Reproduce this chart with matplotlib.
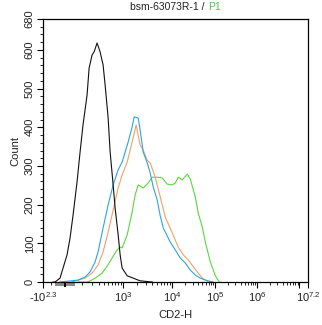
import numpy as np
import matplotlib
matplotlib.use("Agg")
import matplotlib.pyplot as plt
from matplotlib.ticker import FixedLocator, NullFormatter
from matplotlib.patches import Rectangle
import matplotlib.transforms as mtransforms

plt.rcParams['font.family'] = ['Liberation Sans', 'DejaVu Sans']
plt.rcParams['mathtext.fontset'] = 'custom'
plt.rcParams['mathtext.rm'] = 'Liberation Sans'
plt.rcParams['mathtext.it'] = 'Liberation Sans'

# ---- data (CD2-H values, counts) ----
black_x = [-81.9, -64.6, -28.3, -10.5, 8.62, 23, 39.2, 64.2, 85.9, 110, 148, 170, 205, 232, 275, 325,
           381, 423, 492, 543, 628, 690, 795, 872, 955, 1220, 1630, 2270, 3990]
black_y = [0, 0, 10, 36, 70, 114, 173, 259, 336, 406, 483, 553, 587, 595, 618, 595, 561, 509, 424,
           336, 251, 191, 122, 70, 36, 16, 10, 3, 0]
blue_x = [-28.3, 71.2, 129, 181, 246, 291, 381, 492, 628, 795, 955, 1104, 1279, 1550, 1709, 2070,
          2270, 2620, 3160, 3630, 4174, 5020, 5770, 6622, 9126, 11760, 15370, 20110, 26280, 34350,
          44880, 65240, 85200]
blue_y = [0, 5, 13, 26, 52, 78, 140, 199, 251, 290, 310, 336, 362, 401, 427, 424, 393, 336, 308,
          282, 246, 212, 171, 140, 103, 83, 62, 49, 31, 18, 10, 3, 0]
orange_x = [33.6, 129, 205, 291, 381, 492, 628, 795, 955, 1220, 1550, 1880, 2270, 2620, 3160, 3630,
            4580, 5770, 7260, 10000, 13800, 18100, 23600, 30900, 40300, 49900, 65200, 89900]
orange_y = [0, 10, 23, 44, 78, 129, 186, 243, 277, 310, 362, 406, 354, 341, 315, 308, 271, 220, 168,
            127, 90, 70, 57, 39, 23, 10, 3, 0]
green_x = [71.2, 159, 246, 362, 468, 598, 758, 872, 955, 1220, 1550, 1790, 2070, 2620, 3310, 3990,
           5020, 6320, 7950, 10000, 11800, 13800, 17100, 22400, 26300, 34300, 40300, 49900, 58600,
           76600, 100000, 125000]
green_y = [0, 0, 10, 23, 41, 62, 83, 90, 88, 122, 181, 225, 251, 243, 256, 271, 271, 269, 253, 251,
           256, 271, 264, 279, 266, 220, 178, 142, 103, 52, 16, 0]

x_major = [-10**2.3, 1e3, 1e4, 1e5, 1e6, 1e7, 10**7.2]
x_major_labels = [r'-$\mathregular{10^{2.3}}$', r'$\mathregular{10^{3}}$', r'$\mathregular{10^{4}}$',
                  r'$\mathregular{10^{5}}$', r'$\mathregular{10^{6}}$', '', r'$\mathregular{10^{7.2}}$']
y_major = [0, 100, 200, 300, 400, 500, 600, 680]

# ---- biexponential-like display scale ----
anchor_v = np.array([-10**2.3, 0, 1e3, 1e4, 1e5, 1e6, 1e7, 10**7.2])
anchor_p = np.array([43, 65, 123, 172, 215, 257, 299, 307.5])


def _g(v):
    v = np.asarray(v, dtype=float)
    return np.sign(v) * np.log10(1 + np.abs(v) / 100.0)


def _ginv(g):
    g = np.asarray(g, dtype=float)
    return np.sign(g) * 100.0 * (10 ** np.abs(g) - 1)


ag = _g(anchor_v)
ag_ext = np.concatenate([[ag[0] - 20], ag, [ag[-1] + 20]])
ap_ext = np.concatenate([[anchor_p[0] - 20 * 46], anchor_p, [anchor_p[-1] + 20 * 42]])


def fwd(v):
    return np.interp(_g(v), ag_ext, ap_ext)


def inv(p):
    return _ginv(np.interp(p, ap_ext, ag_ext))


fig = plt.figure(figsize=(3.22, 3.25), dpi=100)
ax = fig.add_axes([43 / 322, 43 / 325, 265 / 322, 263 / 325])
ax.set_xscale('function', functions=(fwd, inv))

lw = 0.8
ax.plot(green_x, green_y, color='#5ad83c', lw=lw)
ax.plot(orange_x, orange_y, color='#f2a068', lw=lw)
ax.plot(blue_x, blue_y, color='#2aa6dc', lw=lw)
ax.plot(black_x, black_y, color='#111111', lw=lw)

ax.set_xlim(-10**2.3, 10**7.2)
ax.set_ylim(0, 680)

# ticks
ax.xaxis.set_major_locator(FixedLocator(x_major))
ax.set_xticklabels(x_major_labels)
minors = [-100, 100] + [m * 10**e for e in range(2, 7) for m in range(2, 10)]
ax.xaxis.set_minor_locator(FixedLocator(minors))
ax.xaxis.set_minor_formatter(NullFormatter())
ax.yaxis.set_major_locator(FixedLocator(y_major))
ax.yaxis.set_minor_locator(FixedLocator(list(range(20, 680, 20))))
ax.tick_params(axis='both', which='major', direction='out', length=4, width=0.8, labelsize=8,
               color='black', labelcolor='#222222', pad=2)
ax.tick_params(axis='both', which='minor', direction='out', length=2.2, width=0.6)
for lab in ax.get_yticklabels():
    lab.set_rotation(90)
    lab.set_va('center')
for s in ax.spines.values():
    s.set_linewidth(0.9)

# linear-zone bar under the axis
trans = mtransforms.blended_transform_factory(ax.transData, ax.transAxes)
ax.add_patch(Rectangle((-62, -0.017), 62 + 52, 0.013, transform=trans, color='#8c8c8c',
                       clip_on=False, lw=0))
ax.add_patch(Rectangle((-6, -0.02), 12, 0.018, transform=trans, color='black', clip_on=False, lw=0))

ax.set_xlabel('CD2-H', fontsize=8, labelpad=4, color='#222222')
ax.set_ylabel('Count', fontsize=8, labelpad=3, color='#222222')

# title: two colours
t1 = fig.text(0.5, 0.993, 'bsm-63073R-1 / ', ha='right', va='top', fontsize=7.5, color='#222222')
t2 = fig.text(0.5, 0.993, 'P1', ha='left', va='top', fontsize=7.5, color='#48c848')
fig.canvas.draw()
w1 = t1.get_window_extent().width / fig.bbox.width
w2 = t2.get_window_extent().width / fig.bbox.width
center = ax.get_position().x0 + ax.get_position().width / 2
shift = center - (0.5 - w1 + (w1 + w2) / 2)
t1.set_x(0.5 + shift)
t2.set_x(0.5 + shift)

fig.savefig('out.png', dpi=100)
